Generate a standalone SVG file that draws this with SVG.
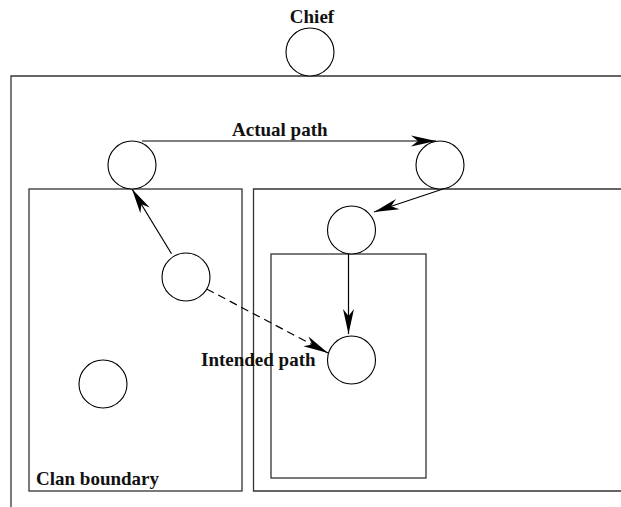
<svg xmlns="http://www.w3.org/2000/svg" width="621" height="507" viewBox="0 0 621 507">
  <style>
    .box { fill: none; stroke: #333; stroke-width: 1.3; }
    .node { fill: #fff; stroke: #000; stroke-width: 1.1; }
    .edge { fill: none; stroke: #000; stroke-width: 1.2; }
    .dashed { stroke-dasharray: 8 5; }
    .label { font-family: "Liberation Serif", "Times New Roman", serif; font-weight: bold; font-size: 19px; fill: #111; }
  </style>
  <defs>
    <marker id="arrow" markerUnits="userSpaceOnUse" markerWidth="30" markerHeight="14" refX="0" refY="0" viewBox="-26 -7 28 14" orient="auto" overflow="visible">
      <path d="M0,0 L-25,-5.5 L-18,0 L-25,5.5 Z" fill="#000"/>
    </marker>
  </defs>

  <rect width="621" height="507" fill="#fff"/>

  <!-- boundaries -->
  <g id="boundaries">
    <path class="box" d="M11,507 L11,76 L621,76"/>
    <rect id="clan-left" class="box" x="29" y="189" width="213" height="302"/>
    <path id="clan-right" class="box" d="M621,189 L253.5,189 L253.5,491 L621,491"/>
    <rect id="sub-clan" class="box" x="271" y="254" width="155" height="224"/>
  </g>

  <!-- connectors -->
  <g id="connectors">
    <path class="edge" d="M142,141 L436,141" marker-end="url(#arrow)"/>
    <path class="edge" d="M443,189 L374,212" marker-end="url(#arrow)"/>
    <path class="edge" d="M348.5,254 L348.5,334" marker-end="url(#arrow)"/>
    <path class="edge" d="M171.5,253.7 L132,189" marker-end="url(#arrow)"/>
    <path class="edge dashed" d="M206.7,289 L328,353" marker-end="url(#arrow)"/>
  </g>

  <!-- nodes -->
  <g id="chief"><circle class="node" cx="310" cy="52" r="24"/></g>
  <g id="node-a"><circle class="node" cx="132" cy="165" r="24"/></g>
  <g id="node-b"><circle class="node" cx="440" cy="165" r="24"/></g>
  <g id="node-c"><circle class="node" cx="351.5" cy="230" r="24"/></g>
  <g id="node-d"><circle class="node" cx="186" cy="277" r="24"/></g>
  <g id="node-e"><circle class="node" cx="351.5" cy="360" r="24"/></g>
  <g id="node-f"><circle class="node" cx="103" cy="384" r="24"/></g>

  <!-- labels -->
  <g id="labels">
    <text class="label" x="312" y="23" text-anchor="middle">Chief</text>
    <text class="label" x="232" y="136">Actual path</text>
    <text class="label" x="201" y="366">Intended path</text>
    <text class="label" x="36" y="485">Clan boundary</text>
  </g>
</svg>
